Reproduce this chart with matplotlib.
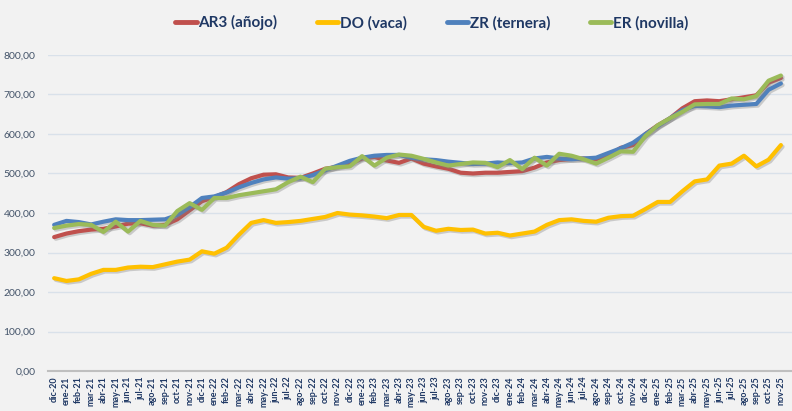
import matplotlib
matplotlib.use("Agg")
import matplotlib.pyplot as plt
import matplotlib.patheffects as pe

# ── data (€/100 kg canal style prices) ───────────────────────────────────────

MONTHS = ["ene", "feb", "mar", "abr", "may", "jun",
          "jul", "ago", "sep", "oct", "nov", "dic"]
LABELS = ["dic-20"] + [f"{m}-{y}" for y in range(21, 26) for m in MONTHS][:59]

ar3 = [339, 348, 354, 358, 360, 366, 373, 374, 368, 370, 384, 407,
       430, 440, 453, 473, 488, 497, 498, 490, 489, 500, 512, 517,
       525, 538, 542, 533, 527, 538, 525, 518, 512, 502, 500, 502,
       502, 504, 506, 515, 528, 534, 537, 538, 536, 546, 565, 572,
       600, 622, 640, 665, 683, 685, 683, 688, 693, 698, 730, 742]

do = [235, 228, 232, 246, 256, 256, 262, 264, 263, 270, 277, 282,
      303, 297, 312, 345, 375, 382, 375, 377, 380, 385, 390, 400,
      396, 394, 391, 387, 395, 395, 365, 355, 360, 357, 358, 348,
      350, 343, 348, 353, 370, 382, 384, 380, 378, 388, 392, 393,
      410, 428, 428, 455, 480, 485, 520, 525, 545, 518, 535, 572]

zr = [370, 380, 377, 371, 378, 384, 382, 382, 383, 384, 395, 415,
      438, 442, 452, 465, 476, 485, 490, 487, 488, 496, 508, 520,
      532, 540, 545, 547, 547, 540, 536, 534, 530, 527, 524, 525,
      528, 526, 528, 538, 542, 538, 536, 538, 540, 552, 564, 578,
      600, 620, 640, 660, 671, 670, 668, 672, 674, 676, 712, 728]

er = [362, 368, 372, 370, 352, 378, 353, 380, 370, 368, 405, 425,
      408, 438, 438, 445, 450, 455, 460, 478, 492, 478, 512, 516,
      518, 544, 520, 540, 548, 545, 537, 528, 520, 524, 528, 527,
      516, 534, 511, 540, 520, 550, 545, 536, 525, 540, 556, 555,
      595, 622, 640, 656, 675, 676, 676, 690, 688, 696, 735, 748]

SERIES = [
    ("AR3 (añojo)", ar3, "#C0504D"),
    ("DO (vaca)", do, "#FFC000"),
    ("ZR (ternera)", zr, "#4F81BD"),
    ("ER (novilla)", er, "#9BBB59"),
]

BG = "#F2F2F2"
NAVY = "#1F3864"
FONT = ["Lato", "DejaVu Sans"]

# ── plot ─────────────────────────────────────────────────────────────────────

fig = plt.figure(figsize=(7.92, 4.11), dpi=100, facecolor=BG)
ax = fig.add_axes([0.0606, 0.0973, 0.9394, 0.7689], facecolor=BG)

x = list(range(len(LABELS)))
shadow = [pe.SimpleLineShadow(offset=(1.2, -1.2), shadow_color="#7f7f7f", alpha=0.35),
          pe.Normal()]
for name, vals, col in SERIES:
    ax.plot(x, vals, color=col, lw=3.0, label=name, solid_joinstyle="round",
            solid_capstyle="round", path_effects=shadow, zorder=3)

ax.set_ylim(0, 800)
ax.set_xlim(-0.5, 59.9)
ax.set_yticks(range(0, 801, 100))
ax.set_yticklabels([f"{v},00" for v in range(0, 801, 100)],
                   fontsize=7.5, color="#44546A", family=FONT)
ax.grid(axis="y", color="#D9E1EA", lw=1.0, zorder=0)
ax.set_xticks(x)
ax.set_xticklabels(LABELS, rotation=90, fontsize=6.5, fontweight="bold", color=NAVY,
                   family=FONT, va="top")
ax.tick_params(axis="both", length=0, pad=9)
ax.tick_params(axis="x", pad=4)
for s in ["top", "right", "left"]:
    ax.spines[s].set_visible(False)
ax.spines["bottom"].set_color("#BFBFBF")
ax.spines["bottom"].set_linewidth(1.5)

leg = fig.legend(loc="center", bbox_to_anchor=(0.545, 0.945), ncol=4, frameon=False,
                 handlelength=1.4, handletextpad=0.1, columnspacing=2.6,
                 prop={"family": FONT, "weight": "bold", "size": 11})
for t in leg.get_texts():
    t.set_color(NAVY)
for h in leg.legend_handles:
    h.set_linewidth(3.5)
    h.set_path_effects([])

fig.savefig("out.png", dpi=100, facecolor=BG)
